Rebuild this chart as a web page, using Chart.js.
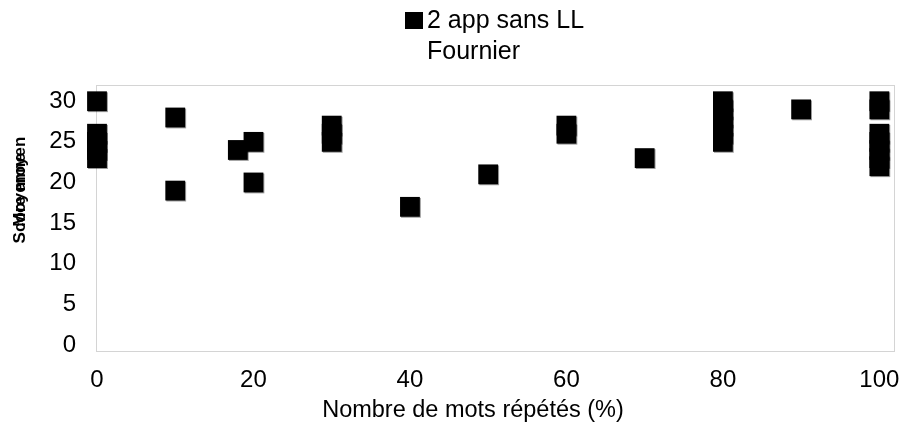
<!DOCTYPE html>
<html>
<head>
<meta charset="utf-8">
<script src="https://cdn.jsdelivr.net/npm/chart.js@4/dist/chart.umd.min.js"></script>
<style>
  body { margin: 0; background: #fff; }
</style>
</head>
<body>
<canvas id="chart" width="905" height="430"></canvas>
<script>
// percent of repeated words vs score
const xValues = [0, 0, 0, 0, 0, 10, 10, 18, 20, 20, 30, 30, 30, 40, 50, 60, 60, 70, 80, 80, 80, 80, 80, 80, 90, 100, 100, 100, 100, 100, 100, 100];
const yValues = [30, 26, 25, 24, 23, 28, 19, 24, 25, 20, 27, 26, 25, 17, 21, 27, 26, 23, 30, 29, 28, 27, 26, 25, 29, 30, 29, 26, 25, 24, 23, 22];
const xTicks = [0, 20, 40, 60, 80, 100];
const yTicks = [0, 5, 10, 15, 20, 25, 30];
const seriesName = ['2 app sans LL', 'Fournier'];
const xTitle = 'Nombre de mots répétés (%)';
const yTitles = ['Score moyen', 'Moyenne'];

const points = xValues.map((x, i) => ({ x: x, y: yValues[i] }));
const font = 'Arial, "Liberation Sans", sans-serif';

const frame = {
    id: 'frame',
    beforeDatasetsDraw(chart) {
        const a = chart.chartArea;
        const ctx = chart.ctx;
        ctx.save();
        ctx.strokeStyle = '#d4d4d4';
        ctx.lineWidth = 1;
        ctx.strokeRect(Math.round(a.left) - 0.5, Math.round(a.top) + 0.5, Math.round(a.right - a.left), Math.round(a.bottom - a.top));
        ctx.restore();
        // little shadow like the original markers
        ctx.save();
        ctx.shadowColor = 'rgba(0,0,0,0.4)';
        ctx.shadowOffsetX = 1;
        ctx.shadowOffsetY = 1;
        ctx.shadowBlur = 0;
    },
    afterDatasetsDraw(chart) {
        chart.ctx.restore();
    },
    afterDraw(chart) {
        const ctx = chart.ctx;
        ctx.save();
        // legend
        ctx.fillStyle = '#000';
        ctx.fillRect(405, 12, 18, 17);
        ctx.font = '25px ' + font;
        ctx.textBaseline = 'middle';
        ctx.textAlign = 'left';
        ctx.fillText(seriesName[0], 427, 21);
        ctx.fillText(seriesName[1], 427, 52);
        // x axis title
        ctx.textAlign = 'center';
        ctx.font = '23.5px ' + font;
        ctx.fillText(xTitle, 473, 411);
        // garbled y title (overlapping texts)
        ctx.translate(20, 190);
        ctx.rotate(-Math.PI / 2);
        ctx.font = 'bold 17px ' + font;
        ctx.fillText(yTitles[0], 0, 0);
        ctx.fillText(yTitles[1], 0, 0);
        ctx.restore();
    }
};

new Chart(document.getElementById('chart'), {
    type: 'scatter',
    data: {
        datasets: [{
            label: seriesName.join(' '),
            data: points,
            clip: false,
            pointStyle: 'rect',
            pointRadius: 14,
            pointHoverRadius: 14,
            backgroundColor: '#000',
            borderColor: '#000',
            borderWidth: 0
        }]
    },
    options: {
        responsive: false,
        animation: false,
        layout: { autoPadding: false, padding: { left: 0, top: 85, right: 10, bottom: 0 } },
        plugins: {
            legend: { display: false },
            tooltip: { enabled: false }
        },
        scales: {
            x: {
                type: 'linear',
                min: 0,
                max: 102,
                grid: { display: false, drawTicks: false },
                border: { display: false },
                afterBuildTicks: s => { s.ticks = xTicks.map(v => ({ value: v })); },
                afterFit: s => { s.height = 79; s.paddingLeft = 0; s.paddingRight = 0; },
                ticks: { color: '#000', padding: 15, maxRotation: 0, font: { family: font, size: 24 } }
            },
            y: {
                min: -0.75,
                max: 32,
                grid: { display: false, drawTicks: false },
                border: { display: false },
                afterBuildTicks: s => { s.ticks = yTicks.map(v => ({ value: v })); },
                afterFit: s => { s.width = 97; s.paddingTop = 0; s.paddingBottom = 0; },
                ticks: { color: '#000', padding: 21, font: { family: font, size: 24 } }
            }
        }
    },
    plugins: [frame]
});
</script>
</body>
</html>
